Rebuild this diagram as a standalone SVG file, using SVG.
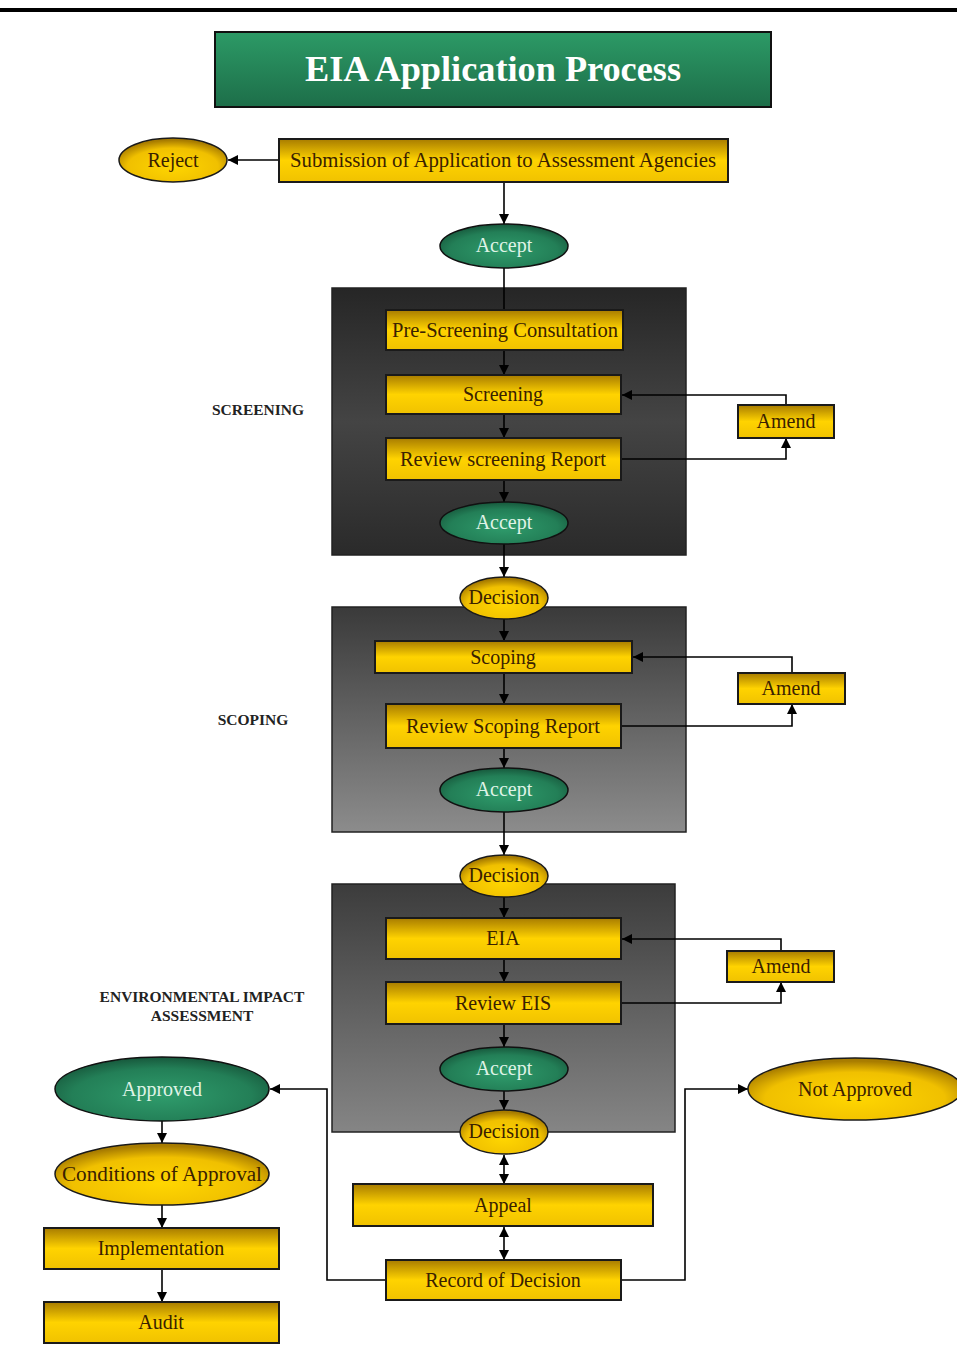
<svg xmlns="http://www.w3.org/2000/svg" width="957" height="1363" viewBox="0 0 957 1363">
  <defs>
    <linearGradient id="gTitle" x1="0" y1="0" x2="0" y2="1">
      <stop offset="0" stop-color="#2c9a66"/>
      <stop offset="1" stop-color="#1d6e49"/>
    </linearGradient>
    <linearGradient id="gBox" x1="0" y1="0" x2="0" y2="1">
      <stop offset="0" stop-color="#a87c00"/>
      <stop offset="0.5" stop-color="#ffd300"/>
      <stop offset="1" stop-color="#f0c200"/>
    </linearGradient>
    <radialGradient id="gOvalY" cx="0.5" cy="0.65" r="0.6">
      <stop offset="0" stop-color="#ffd600"/>
      <stop offset="0.7" stop-color="#f0c000"/>
      <stop offset="1" stop-color="#a87c00"/>
    </radialGradient>
    <radialGradient id="gOvalG" cx="0.5" cy="0.6" r="0.6">
      <stop offset="0" stop-color="#2f9c6c"/>
      <stop offset="0.7" stop-color="#237f57"/>
      <stop offset="1" stop-color="#17583c"/>
    </radialGradient>
    <linearGradient id="gPanel1" x1="0" y1="0" x2="0" y2="1">
      <stop offset="0" stop-color="#262626"/>
      <stop offset="0.5" stop-color="#444"/>
      <stop offset="1" stop-color="#2a2a2a"/>
    </linearGradient>
    <linearGradient id="gPanel2" x1="0" y1="0" x2="0" y2="1">
      <stop offset="0" stop-color="#3a3a3a"/>
      <stop offset="1" stop-color="#8c8c8c"/>
    </linearGradient>
    <linearGradient id="gPanel3" x1="0" y1="0" x2="0" y2="1">
      <stop offset="0" stop-color="#3c3c3c"/>
      <stop offset="1" stop-color="#858585"/>
    </linearGradient>
    <marker id="arr" viewBox="0 0 10 10" refX="10" refY="5" markerWidth="10" markerHeight="10" markerUnits="userSpaceOnUse" orient="auto">
      <path d="M0,0 L10,5 L0,10 z" fill="#000"/>
    </marker>
    <marker id="arrS" viewBox="0 0 10 10" refX="0" refY="5" markerWidth="10" markerHeight="10" markerUnits="userSpaceOnUse" orient="auto">
      <path d="M10,0 L0,5 L10,10 z" fill="#000"/>
    </marker>
  </defs>
  <style>
    .box { fill: url(#gBox); stroke: #1a1a1a; stroke-width: 2; }
    .ovY { fill: url(#gOvalY); stroke: #1a1a1a; stroke-width: 1.5; }
    .ovG { fill: url(#gOvalG); stroke: #111; stroke-width: 1.5; }
    .panel { stroke: #222; stroke-width: 1.5; }
    .t { font-family: "Liberation Serif", "DejaVu Serif", serif; font-size: 20px; fill: #3a2100; text-anchor: middle; }
    .tg { font-family: "Liberation Serif", "DejaVu Serif", serif; font-size: 20px; fill: #dff3e6; text-anchor: middle; }
    .lbl { font-family: "Liberation Serif", "DejaVu Serif", serif; font-size: 15.5px; font-weight: bold; fill: #222; text-anchor: middle; }
    .c { fill: none; stroke: #000; stroke-width: 1.6; }
    .ca { fill: none; stroke: #000; stroke-width: 1.6; marker-end: url(#arr); }
    .cb { fill: none; stroke: #000; stroke-width: 1.6; marker-end: url(#arr); marker-start: url(#arrS); }
  </style>

  <rect width="957" height="1363" fill="#fff"/>
  <rect x="0" y="8" width="957" height="4" fill="#000"/>

  <!-- stage panels -->
  <rect class="panel" x="332" y="288" width="354" height="267" fill="url(#gPanel1)"/>
  <rect class="panel" x="332" y="607" width="354" height="225" fill="url(#gPanel2)"/>
  <rect class="panel" x="332" y="884" width="343" height="248" fill="url(#gPanel3)"/>

  <!-- stage labels -->
  <text class="lbl" x="258" y="415">SCREENING</text>
  <text class="lbl" x="253" y="725">SCOPING</text>
  <text class="lbl" x="202" y="1002">ENVIRONMENTAL IMPACT</text>
  <text class="lbl" x="202" y="1021">ASSESSMENT</text>

  <!-- connectors -->
  <g id="connectors">
    <path class="ca" d="M279,160 H228"/>
    <path class="ca" d="M504,182 V224"/>
    <path class="c" d="M504,268 V310"/>
    <path class="ca" d="M504,350 V375"/>
    <path class="ca" d="M504,414 V438"/>
    <path class="ca" d="M504,480 V502"/>
    <path class="ca" d="M504,544 V577"/>
    <path class="ca" d="M621,459 H786 V438"/>
    <path class="ca" d="M786,405 V395 H622"/>
    <path class="ca" d="M504,619 V641"/>
    <path class="ca" d="M504,673 V704"/>
    <path class="ca" d="M504,748 V768"/>
    <path class="ca" d="M504,812 V855"/>
    <path class="ca" d="M621,726 H792 V704"/>
    <path class="ca" d="M792,673 V657 H633"/>
    <path class="ca" d="M504,897 V918"/>
    <path class="ca" d="M504,959 V982"/>
    <path class="ca" d="M504,1024 V1047"/>
    <path class="ca" d="M504,1091 V1110"/>
    <path class="ca" d="M621,1003 H781 V982"/>
    <path class="ca" d="M781,951 V939 H622"/>
    <path class="cb" d="M504,1155 V1184"/>
    <path class="cb" d="M504,1227 V1260"/>
    <path class="ca" d="M386,1280 H327 V1089 H270"/>
    <path class="ca" d="M621,1280 H685 V1089 H748"/>
    <path class="ca" d="M162,1121 V1143"/>
    <path class="ca" d="M162,1205 V1228"/>
    <path class="ca" d="M162,1269 V1302"/>
  </g>

  <g id="title">
    <rect x="215" y="32" width="556" height="75" fill="url(#gTitle)" stroke="#111" stroke-width="2"/>
    <text x="493" y="81" font-family="Liberation Serif, DejaVu Serif, serif" font-size="35" font-weight="bold" fill="#fff" text-anchor="middle" textLength="376" lengthAdjust="spacingAndGlyphs">EIA Application Process</text>
  </g>

  <g id="submission">
    <rect class="box" x="279" y="139" width="449" height="43"/>
    <text class="t" x="503" y="167" textLength="426" lengthAdjust="spacingAndGlyphs">Submission of Application to Assessment Agencies</text>
  </g>
  <g id="reject">
    <ellipse class="ovY" cx="173" cy="160" rx="54" ry="22"/>
    <text class="t" x="173" y="167">Reject</text>
  </g>
  <g id="accept1">
    <ellipse class="ovG" cx="504" cy="246" rx="64" ry="22"/>
    <text class="tg" x="504" y="252">Accept</text>
  </g>

  <g id="prescreening">
    <rect class="box" x="386" y="310" width="237" height="40"/>
    <text class="t" x="505" y="337" textLength="226" lengthAdjust="spacingAndGlyphs">Pre-Screening Consultation</text>
  </g>
  <g id="screening">
    <rect class="box" x="386" y="375" width="235" height="39"/>
    <text class="t" x="503" y="401">Screening</text>
  </g>
  <g id="review-screening">
    <rect class="box" x="386" y="438" width="235" height="42"/>
    <text class="t" x="503" y="466" textLength="206" lengthAdjust="spacingAndGlyphs">Review screening Report</text>
  </g>
  <g id="accept2">
    <ellipse class="ovG" cx="504" cy="523" rx="64" ry="21"/>
    <text class="tg" x="504" y="529">Accept</text>
  </g>
  <g id="amend1">
    <rect class="box" x="738" y="405" width="96" height="33"/>
    <text class="t" x="786" y="428">Amend</text>
  </g>

  <g id="decision1">
    <ellipse class="ovY" cx="504" cy="598" rx="44" ry="21"/>
    <text class="t" x="504" y="604" font-size="18">Decision</text>
  </g>
  <g id="scoping">
    <rect class="box" x="375" y="641" width="257" height="32"/>
    <text class="t" x="503" y="664">Scoping</text>
  </g>
  <g id="review-scoping">
    <rect class="box" x="386" y="704" width="235" height="44"/>
    <text class="t" x="503" y="733" textLength="194" lengthAdjust="spacingAndGlyphs">Review Scoping Report</text>
  </g>
  <g id="accept3">
    <ellipse class="ovG" cx="504" cy="790" rx="64" ry="22"/>
    <text class="tg" x="504" y="796">Accept</text>
  </g>
  <g id="amend2">
    <rect class="box" x="738" y="673" width="107" height="31"/>
    <text class="t" x="791" y="695">Amend</text>
  </g>

  <g id="decision2">
    <ellipse class="ovY" cx="504" cy="876" rx="44" ry="21"/>
    <text class="t" x="504" y="882" font-size="18">Decision</text>
  </g>
  <g id="eia">
    <rect class="box" x="386" y="918" width="235" height="41"/>
    <text class="t" x="503" y="945">EIA</text>
  </g>
  <g id="review-eis">
    <rect class="box" x="386" y="982" width="235" height="42"/>
    <text class="t" x="503" y="1010">Review EIS</text>
  </g>
  <g id="accept4">
    <ellipse class="ovG" cx="504" cy="1069" rx="64" ry="22"/>
    <text class="tg" x="504" y="1075">Accept</text>
  </g>
  <g id="amend3">
    <rect class="box" x="727" y="951" width="107" height="31"/>
    <text class="t" x="781" y="973">Amend</text>
  </g>
  <g id="decision3">
    <ellipse class="ovY" cx="504" cy="1132" rx="44" ry="22"/>
    <text class="t" x="504" y="1138" font-size="18">Decision</text>
  </g>

  <g id="appeal">
    <rect class="box" x="353" y="1184" width="300" height="42"/>
    <text class="t" x="503" y="1212">Appeal</text>
  </g>
  <g id="record">
    <rect class="box" x="386" y="1260" width="235" height="40"/>
    <text class="t" x="503" y="1287" font-size="19">Record of Decision</text>
  </g>
  <g id="not-approved">
    <ellipse class="ovY" cx="855" cy="1089" rx="107" ry="31"/>
    <text class="t" x="855" y="1096">Not Approved</text>
  </g>

  <g id="approved">
    <ellipse class="ovG" cx="162" cy="1089" rx="107" ry="32"/>
    <text class="tg" x="162" y="1096">Approved</text>
  </g>
  <g id="conditions">
    <ellipse class="ovY" cx="162" cy="1174" rx="107" ry="31"/>
    <text class="t" x="162" y="1181" textLength="200" lengthAdjust="spacingAndGlyphs">Conditions of Approval</text>
  </g>
  <g id="implementation">
    <rect class="box" x="44" y="1228" width="235" height="41"/>
    <text class="t" x="161" y="1255">Implementation</text>
  </g>
  <g id="audit">
    <rect class="box" x="44" y="1302" width="235" height="41"/>
    <text class="t" x="161" y="1329">Audit</text>
  </g>
</svg>
